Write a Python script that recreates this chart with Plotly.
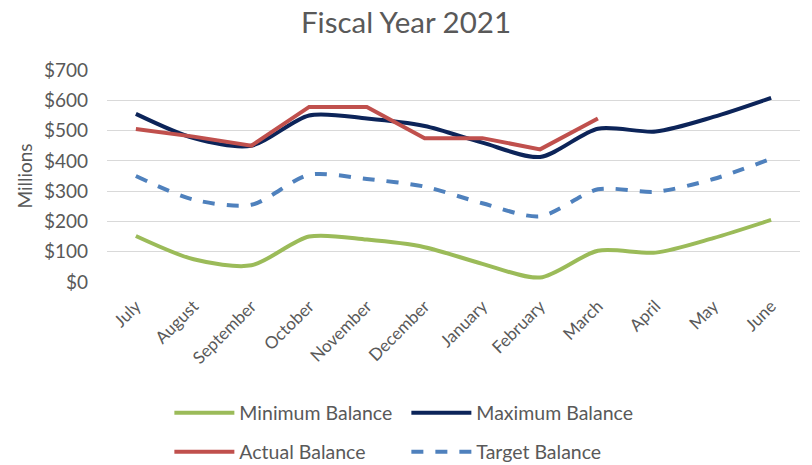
import plotly.graph_objects as go

months = ["July", "August", "September", "October", "November", "December",
          "January", "February", "March", "April", "May", "June"]
minimum = [152, 75, 55, 150, 140, 115, 60, 15, 103, 97, 145, 205]
maximum = [555, 475, 450, 550, 540, 515, 460, 413, 506, 497, 545, 608]
actual = [505, 480, 450, 578, 578, 475, 475, 438, 540]
target = [350, 272, 255, 354, 340, 315, 260, 217, 306, 298, 340, 407]

FONT = "Lato"
GRAY = "#595959"

fig = go.Figure()
fig.add_trace(go.Scatter(x=months, y=minimum, name="Minimum Balance", mode="lines", legend="legend",
                         line=dict(color="#9BBB59", width=4, shape="spline", smoothing=0.8)))
fig.add_trace(go.Scatter(x=months, y=maximum, name="Maximum Balance", mode="lines", legend="legend",
                         line=dict(color="#0C2459", width=4, shape="spline", smoothing=0.8)))
fig.add_trace(go.Scatter(x=months[:len(actual)], y=actual, name="Actual Balance", mode="lines",
                         legend="legend2", line=dict(color="#C0504D", width=4)))
fig.add_trace(go.Scatter(x=months, y=target, name="Target Balance", mode="lines", legend="legend2",
                         line=dict(color="#4F81BD", width=4, dash="dash", shape="spline", smoothing=0.8)))

legend_common = dict(orientation="h", x=0.09, xanchor="left", yanchor="middle",
                     entrywidth=162, entrywidthmode="pixels",
                     font=dict(size=19.5, color=GRAY), itemwidth=60)

fig.update_layout(
    width=812, height=465,
    paper_bgcolor="white", plot_bgcolor="white",
    margin=dict(l=107, r=12, t=70, b=183, autoexpand=False),
    font=dict(family=FONT, color=GRAY, size=18),
    title=dict(text="Fiscal Year 2021", x=0.5, xanchor="center", y=0.952, yanchor="middle",
               font=dict(family=FONT, size=29.5, color=GRAY)),
    xaxis=dict(type="category", range=[-0.5, 11.5], tickangle=-45, showgrid=False, showline=False,
               ticks="", tickfont=dict(size=17, color=GRAY), automargin=False,
               ticklabelstandoff=10),
    yaxis=dict(range=[0, 700], dtick=100, tickprefix="$", showgrid=True,
               gridcolor="#D9D9D9", gridwidth=1, zeroline=False, showline=False,
               tickfont=dict(size=19, color=GRAY), ticklabelstandoff=18, automargin=False,
               title=dict(text="Millions", font=dict(size=19, color=GRAY), standoff=6)),
    legend=dict(y=(282 - 413) / 212, **legend_common),
    legend2=dict(y=(282 - 452) / 212, **legend_common),
    showlegend=True,
)

fig.write_html("out.html")
